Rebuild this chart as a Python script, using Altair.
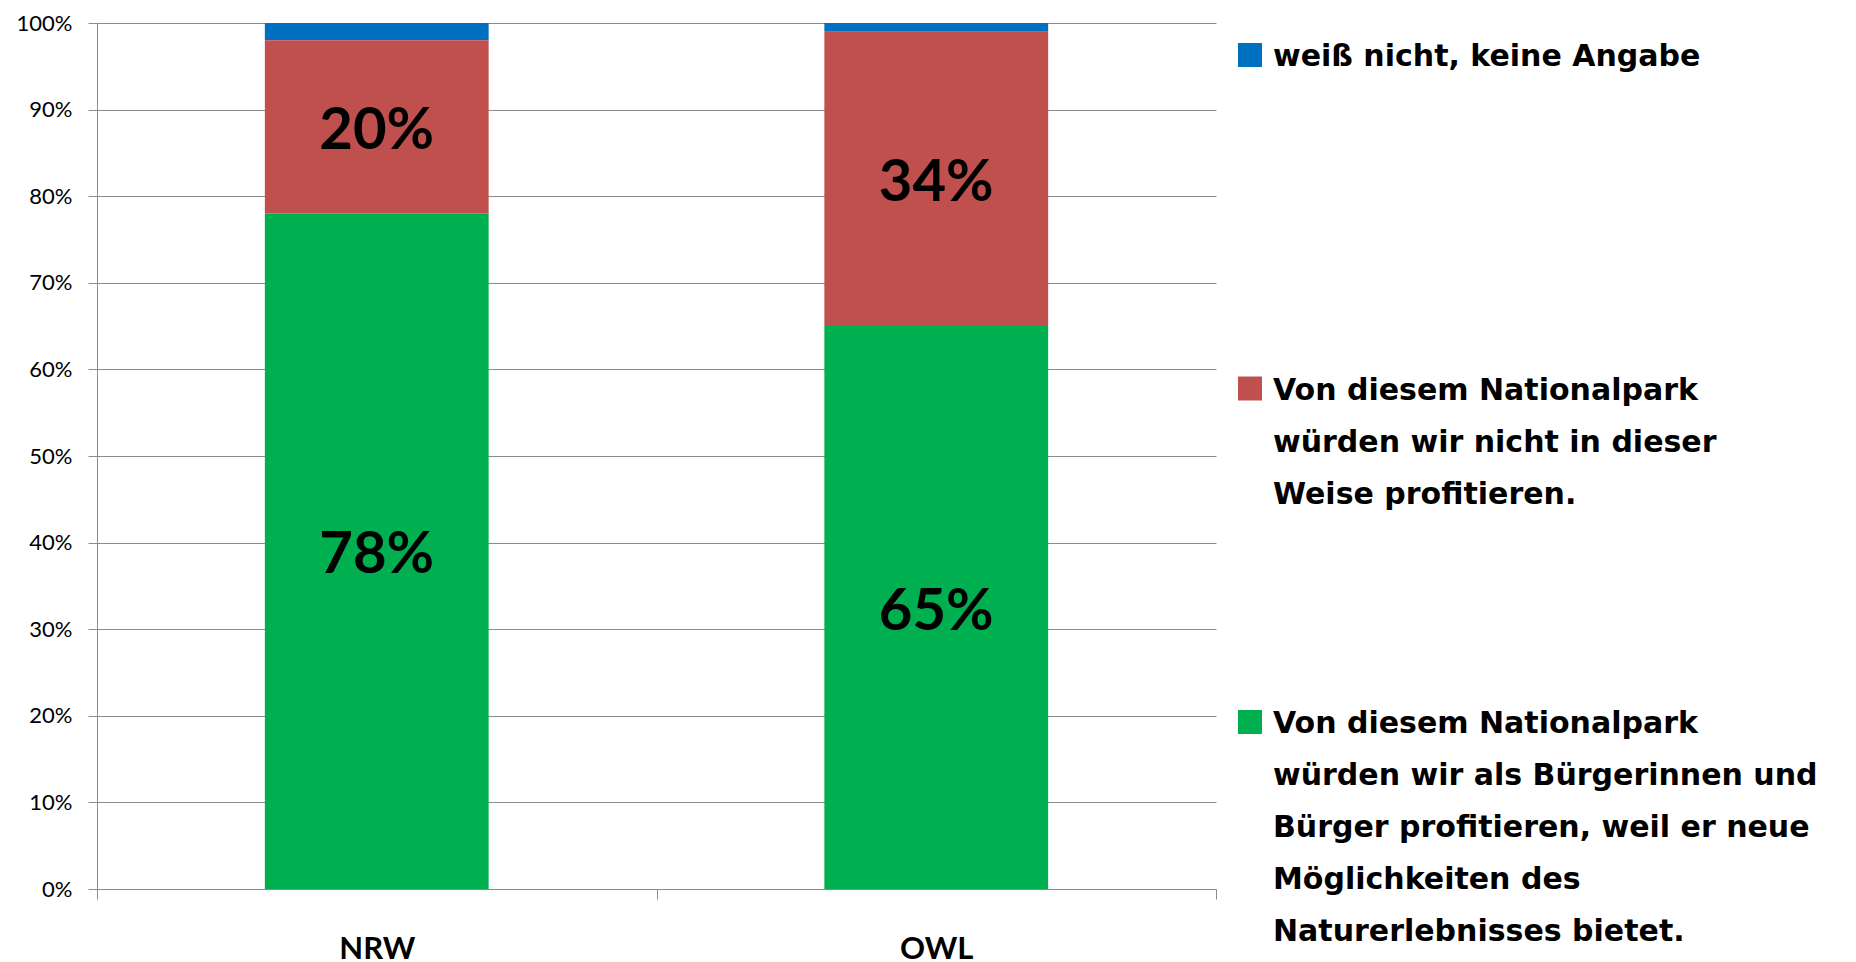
import altair as alt
import pandas as pd

regions = ["NRW", "OWL"]
series = [
    "weiß nicht, keine Angabe",
    "Von diesem Nationalpark\nwürden wir nicht in dieser\nWeise profitieren.",
    "Von diesem Nationalpark\nwürden wir als Bürgerinnen und\nBürger profitieren, weil er neue\nMöglichkeiten des\nNaturerlebnisses bietet.",
]
colors = ["#0070C0", "#C0504D", "#00B050"]
# values per series, in region order
val_unknown = [2, 1]
val_no = [20, 34]
val_yes = [78, 65]
# stacking order (bottom first): yes, no, unknown
stack_rank = [2, 1, 0]

rows = []
for s, vals, rk in zip(series, [val_unknown, val_no, val_yes], stack_rank):
    for r, v in zip(regions, vals):
        rows.append({"region": r, "series": s, "value": v, "rank": rk})
df = pd.DataFrame(rows)

FONT = "Lato"
LEG_FONT = "DejaVu Sans"
GRAY = "#8C8C8C"

color_scale = alt.Scale(domain=series, range=colors)

base = alt.Chart(df).transform_stack(
    stack="value", as_=["y0", "y1"], groupby=["region"],
    sort=[alt.SortField("rank", order="ascending")]
).transform_calculate(mid="(datum.y0 + datum.y1) / 2")

xenc = alt.X(
    "region:N", sort=regions, title=None,
    scale=alt.Scale(paddingInner=0, paddingOuter=0),
    axis=alt.Axis(
        labelAngle=0, labelFont=FONT, labelFontSize=31, labelFontWeight="bold",
        labelColor="black", labelPadding=35, tickBand="extent", tickSize=10,
        tickColor=GRAY, domainColor=GRAY, grid=False,
    ),
)

bars = base.mark_bar(width=alt.RelativeBandSize(0.4)).encode(
    x=xenc,
    y=alt.Y(
        "y0:Q", title=None,
        scale=alt.Scale(domain=[0, 100], nice=False),
        axis=alt.Axis(
            values=list(range(0, 101, 10)), labelExpr="datum.value + '%'",
            labelFont=FONT, labelFontSize=22, labelColor="black",
            tickSize=9, tickColor=GRAY, domainColor=GRAY, gridColor=GRAY,
            gridWidth=1, labelPadding=16,
        ),
    ),
    y2="y1:Q",
    color=alt.Color("series:N", scale=color_scale, legend=None),
)

labels = base.transform_filter("datum.value >= 5").mark_text(
    font=FONT, fontSize=58, fontWeight="bold", color="black", baseline="middle", dy=5
).encode(
    x=alt.X("region:N", sort=regions),
    y=alt.Y("mid:Q"),
    text=alt.Text("label:N"),
).transform_calculate(label="datum.value + '%'")

main = alt.layer(bars, labels).properties(width=1119, height=866)

legend_df = pd.DataFrame({"series": series})
leg_y = alt.Y(
    "series:N", sort=series,
    scale=alt.Scale(type="point", domain=series, range=[32, 699], padding=0),
    axis=None,
)
leg_sym = alt.Chart(legend_df).mark_square(size=576, opacity=1).encode(
    x=alt.value(20), y=leg_y,
    color=alt.Color("series:N", scale=color_scale, legend=None),
)
leg_txt = alt.Chart(legend_df).mark_text(
    font=LEG_FONT, fontSize=30, fontWeight="bold", color="black", align="left",
    baseline="line-top", lineBreak="\n", lineHeight=52, dy=-24,
).encode(x=alt.value(43), y=leg_y, text="series:N")
legend = alt.layer(leg_sym, leg_txt).properties(width=580, height=866)

chart = alt.hconcat(main, legend, spacing=13).properties(
    padding={"left": 8, "top": 4, "right": 0, "bottom": 0},
    background="white",
).configure_view(strokeWidth=0, stroke="transparent")

chart.save("out.html", embed_options={"renderer": "svg", "actions": False})
